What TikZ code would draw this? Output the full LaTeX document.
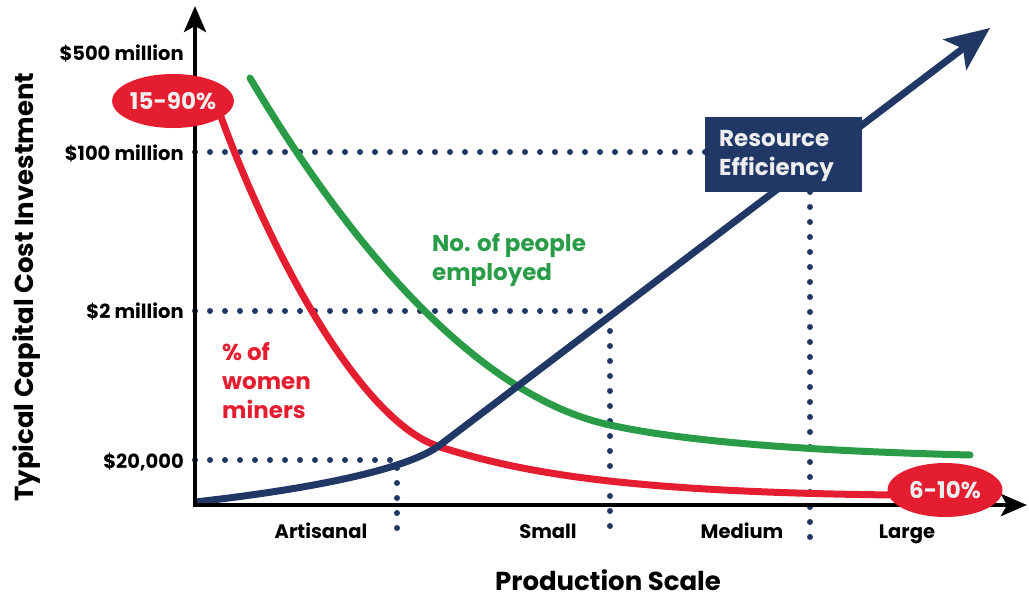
\documentclass[tikz,border=0pt]{standalone}
\usepackage{fontspec}
\setmainfont{Poppins}
\usetikzlibrary{arrows.meta,shapes.geometric}
\definecolor{navy}{HTML}{213867}
\definecolor{cred}{HTML}{E41E30}
\definecolor{cgreen}{HTML}{2A9C48}
\definecolor{boxtxt}{HTML}{EEEEEE}
\tikzset{
  axis/.style={line width=4.5pt, -{Stealth[length=26pt,width=22pt,inset=6pt]}},
  guide/.style={navy, line width=6pt, line cap=round, dash pattern=on 0pt off 15pt},
  curve/.style={line width=7pt, line cap=round},
  lbl/.style={font=\fontsize{19.5}{22}\selectfont\bfseries, inner sep=0pt},
  big/.style={font=\fontsize{23}{29}\selectfont\bfseries, inner sep=0pt, align=left, anchor=base west},
  bubble/.style={ellipse, fill=cred, text=boxtxt, font=\fontsize{23}{26}\selectfont\bfseries, minimum width=115pt, minimum height=54pt, inner sep=0pt},
}
\begin{document}
\begin{tikzpicture}[x=1pt,y=-1pt]
\useasboundingbox (0,0) rectangle (1029,598);
% guides
\coordinate (g100) at (195,152);
\coordinate (g2) at (195,311);
\coordinate (g20) at (195,460);
\coordinate (p2) at (610,311);
\coordinate (p20) at (397,460);
\coordinate (b2) at (610,538);
\coordinate (b20) at (397,538);
\coordinate (bm) at (810,538);
\coordinate (e100) at (705,152);
\coordinate (tm) at (810,192);
\draw[guide] (g100) -- (e100);
\draw[guide] (g2) -- (p2) -- (b2);
\draw[guide] (g20) -- (p20) -- (b20);
\draw[guide] (tm) -- (bm);
% curves
\coordinate (r0) at (215,100);
\coordinate (r1) at (440,447);
\coordinate (r2) at (895,495);
\draw[curve, cred] (r0) .. controls (260,230) and (355,420) .. (r1) .. controls (520,472) and (620,492) .. (r2);
\coordinate (gr0) at (250,78);
\coordinate (gr1) at (610,425);
\coordinate (gr2) at (970,455);
\draw[curve, cgreen] (gr0) .. controls (340,230) and (470,395) .. (gr1) .. controls (700,445) and (850,452) .. (gr2);
\coordinate (bl0) at (195,502);
\coordinate (bl1) at (440,445);
\coordinate (bl2) at (990,28);
\draw[line width=7pt, navy, -{Stealth[length=44pt,width=38pt,inset=10pt]}] (bl0) .. controls (320,488) and (410,468) .. (bl1) -- (bl2);
% axes
\coordinate (ytop) at (195,6);
\coordinate (xend) at (1027,505);
\coordinate (ybot) at (195,507.25);
\coordinate (xbeg) at (192.75,505);
\draw[axis] (ybot) -- (ytop);
\draw[axis] (xbeg) -- (xend);
% box
\node[fill=navy, minimum width=157pt, minimum height=75pt, inner sep=0pt, anchor=north west] (box) at (705,117) {};
\node[big, text=boxtxt] (boxt) at (719,175) {Resource\\Efficiency};
% bubbles
\node[bubble] (b1) at (173,101) {15-90\%};
\node[bubble] (b2n) at (945,490) {6-10\%};
% tick labels
\node[lbl, anchor=base east] (t500) at (184,60) {\$500 million};
\node[lbl, anchor=base east] (t100) at (184,160) {\$100 million};
\node[lbl, anchor=base east] (t2) at (184,318) {\$2 million};
\node[lbl, anchor=base east] (t20) at (184,468) {\$20,000};
% x labels
\node[lbl, anchor=base] (xa) at (321,538) {Artisanal};
\node[lbl, anchor=base] (xs) at (548,538) {Small};
\node[lbl, anchor=base] (xm) at (742,538) {Medium};
\node[lbl, anchor=base] (xl) at (907,538) {Large};
% axis titles
\node[lbl, font=\fontsize{26}{30}\selectfont\bfseries, rotate=90] (yt) at (27,287) {Typical Capital Cost Investment};
\node[lbl, font=\fontsize{26}{30}\selectfont\bfseries, anchor=base] (xt) at (608,590) {Production Scale};
% curve labels
\node[big, text=cgreen] (gl) at (432,280) {No. of people\\employed};
\node[big, text=cred] (rl) at (222,418) {\% of\\women\\miners};
\end{tikzpicture}
\end{document}
